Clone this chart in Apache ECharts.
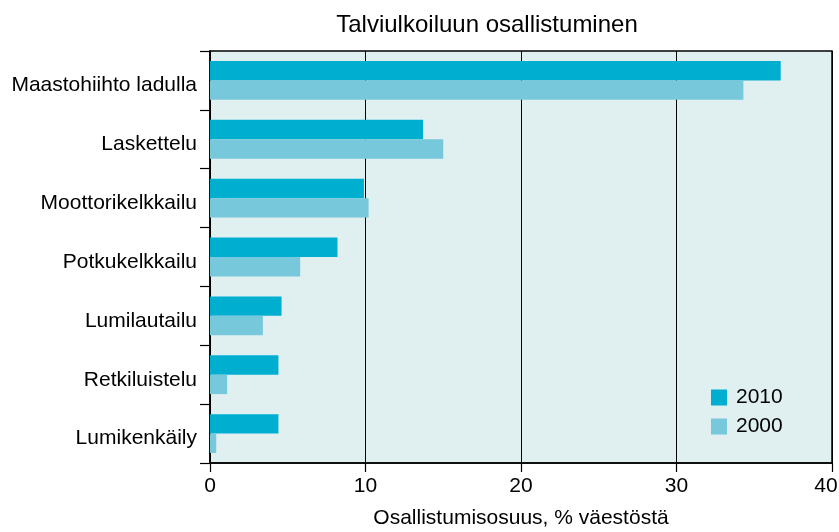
<!DOCTYPE html>
<html>
<head>
<meta charset="utf-8">
<script src="https://cdn.jsdelivr.net/npm/echarts@6/dist/echarts.min.js"></script>
<style>html,body{margin:0;padding:0;background:#fff;}#c{width:839px;height:532px;}</style>
</head>
<body>
<div id="c"></div>
<script>
const categories = ["Maastohiihto ladulla", "Laskettelu", "Moottorikelkkailu", "Potkukelkkailu", "Lumilautailu", "Retkiluistelu", "Lumikenkäily"];
const values2010 = [36.7, 13.7, 9.9, 8.2, 4.6, 4.4, 4.4];
const values2000 = [34.3, 15.0, 10.2, 5.8, 3.4, 1.1, 0.4];
const seriesNames = ["2010", "2000"];
const xTicks = [0, 10, 20, 30, 40];

const FONT = "Liberation Sans, Arial, sans-serif";
const xMax = xTicks[xTicks.length - 1];
const chart = echarts.init(document.getElementById('c'), null, {renderer: 'canvas'});
chart.setOption({
  animation: false,
  title: {
    text: "Talviulkoiluun osallistuminen",
    left: 482, top: 8, textAlign: 'center',
    textStyle: {fontFamily: FONT, fontSize: 24, fontWeight: 'normal', color: '#000'}
  },
  legend: {
    orient: 'vertical', left: 711, top: 387, padding: 0,
    itemWidth: 16, itemHeight: 16, itemGap: 8,
    icon: 'rect',
    textStyle: {fontFamily: FONT, fontSize: 21, color: '#000', padding: [0, 0, 0, 4]},
    data: seriesNames
  },
  grid: {
    left: 210, right: 7, top: 51, bottom: 69,
    outerBoundsMode: 'none', containLabel: false,
    show: true, backgroundColor: '#e0f0f0', borderColor: '#000', borderWidth: 1.5
  },
  xAxis: {
    type: 'value', min: xTicks[0], max: xMax, interval: 10,
    name: "Osallistumisosuus, % väestöstä", nameLocation: 'middle', nameGap: 45,
    nameTextStyle: {fontFamily: FONT, fontSize: 21, color: '#000'},
    axisLine: {show: true, lineStyle: {color: '#000', width: 1.5}},
    axisTick: {show: true, length: 9, lineStyle: {color: '#000', width: 1.2}},
    axisLabel: {
      fontFamily: FONT, fontSize: 21, color: '#000', margin: 13,
      formatter: v => (v === xMax ? '{m|' + v + '}' : String(v)),
      rich: {m: {fontFamily: FONT, fontSize: 21, color: '#000', padding: [0, 12, 0, 0]}}
    },
    splitLine: {show: true, lineStyle: {color: '#000', width: 1}}
  },
  yAxis: {
    type: 'category', data: categories, inverse: true,
    axisLine: {show: true, lineStyle: {color: '#000', width: 1.5}},
    axisTick: {show: true, length: 10, alignWithLabel: false, lineStyle: {color: '#000', width: 1.2}},
    axisLabel: {
      fontFamily: FONT, fontSize: 21, color: '#000', margin: 13,
      formatter: v => '{c|' + v + '}',
      rich: {c: {fontFamily: FONT, fontSize: 21, color: '#000', padding: [10, 0, 0, 0]}}
    },
    splitLine: {show: false}
  },
  series: [
    {name: seriesNames[0], type: 'bar', data: values2010, barGap: '0%', barCategoryGap: '34%',
     itemStyle: {color: '#00aed0'}},
    {name: seriesNames[1], type: 'bar', data: values2000, barGap: '0%', barCategoryGap: '34%',
     itemStyle: {color: '#77c8da'}}
  ]
});
</script>
</body>
</html>
